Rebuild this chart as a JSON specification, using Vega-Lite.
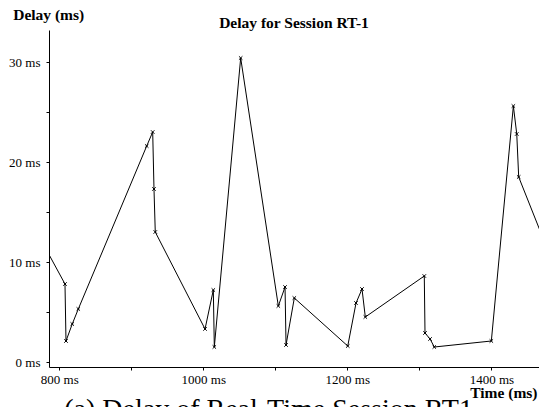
{
  "$schema": "https://vega.github.io/schema/vega-lite/v6.json",
  "width": 490,
  "height": 337,
  "autosize": {"type": "none"},
  "padding": {"left": 49, "top": 30, "right": 0, "bottom": 40},
  "background": "white",
  "config": {
    "view": {"stroke": null},
    "font": "Liberation Serif",
    "axis": {
      "grid": false,
      "domainColor": "black",
      "domainWidth": 1,
      "tickColor": "black",
      "tickWidth": 1,
      "tickSize": 3,
      "labelColor": "black",
      "labelFont": "Liberation Serif",
      "labelFontSize": 13,
      "labelFlush": false,
      "labelOverlap": false,
      "titleFont": "Liberation Serif",
      "titleFontSize": 15.5,
      "titleFontWeight": "bold",
      "titleColor": "black"
    }
  },
  "title": {
    "text": "Delay for Session RT-1",
    "font": "Liberation Serif",
    "fontSize": 15.5,
    "fontWeight": "bold",
    "color": "black",
    "anchor": "middle",
    "frame": "group",
    "baseline": "alphabetic",
    "offset": 1.5,
    "dy": 37.5
  },
  "layer": [
    {
      "data": {"values": [
        {"t": 780, "d": 11.5},
        {"t": 807.9, "d": 7.8},
        {"t": 809.3, "d": 2.1},
        {"t": 818, "d": 3.8},
        {"t": 826.4, "d": 5.3},
        {"t": 921.4, "d": 21.6},
        {"t": 929.7, "d": 23.0},
        {"t": 931.5, "d": 17.3},
        {"t": 933.3, "d": 13.0},
        {"t": 1002.4, "d": 3.3},
        {"t": 1013.9, "d": 7.2},
        {"t": 1015.3, "d": 1.5},
        {"t": 1051.9, "d": 30.4},
        {"t": 1104.2, "d": 5.6},
        {"t": 1113.5, "d": 7.5},
        {"t": 1114.9, "d": 1.7},
        {"t": 1126.4, "d": 6.4},
        {"t": 1200.6, "d": 1.6},
        {"t": 1212.1, "d": 5.9},
        {"t": 1220.4, "d": 7.3},
        {"t": 1225, "d": 4.5},
        {"t": 1306.9, "d": 8.6},
        {"t": 1307.9, "d": 2.9},
        {"t": 1314.9, "d": 2.3},
        {"t": 1320.8, "d": 1.5},
        {"t": 1400, "d": 2.1},
        {"t": 1430.6, "d": 25.6},
        {"t": 1435.3, "d": 22.8},
        {"t": 1438, "d": 18.5},
        {"t": 1475, "d": 11.8}
      ]},
      "encoding": {
        "x": {
          "field": "t",
          "type": "quantitative",
          "scale": {"domain": [785.7, 1466.2], "nice": false, "zero": false},
          "axis": {
            "values": [800, 900, 1000, 1100, 1200, 1300, 1400],
            "labelExpr": "datum.value % 200 === 0 ? datum.value + ' ms' : ''",
            "labelPadding": 3,
            "title": "Time (ms)",
            "titleAlign": "right",
            "titleAnchor": "end",
            "titleBaseline": "alphabetic",
            "titleX": 488,
            "titleY": 30
          }
        },
        "y": {
          "field": "d",
          "type": "quantitative",
          "scale": {"domain": [-0.5, 33.2], "nice": false, "zero": false},
          "axis": {
            "values": [0, 5, 10, 15, 20, 25, 30],
            "labelExpr": "datum.value % 10 === 0 ? datum.value + ' ms' : ''",
            "labelPadding": 6,
            "title": "Delay (ms)",
            "titleAngle": 0,
            "titleAlign": "left",
            "titleAnchor": "start",
            "titleBaseline": "alphabetic",
            "titleX": -36.3,
            "titleY": -11
          }
        }
      },
      "layer": [
        {"mark": {"type": "line", "color": "black", "strokeWidth": 1, "clip": true}},
        {"mark": {"type": "point", "shape": "M-1,-1L1,1M-1,1L1,-1", "filled": false, "color": "black", "size": 12, "strokeWidth": 1, "opacity": 1, "clip": true}}
      ]
    },
    {
      "data": {"values": [{}]},
      "mark": {"type": "text", "text": "(a)  Delay of Real-Time Session RT1", "font": "Liberation Serif", "fontSize": 28, "color": "black", "align": "center", "baseline": "alphabetic"},
      "encoding": {
        "x": {"datum": 1090.6, "type": "quantitative"},
        "y": {"datum": -5.6, "type": "quantitative"}
      }
    }
  ]
}
